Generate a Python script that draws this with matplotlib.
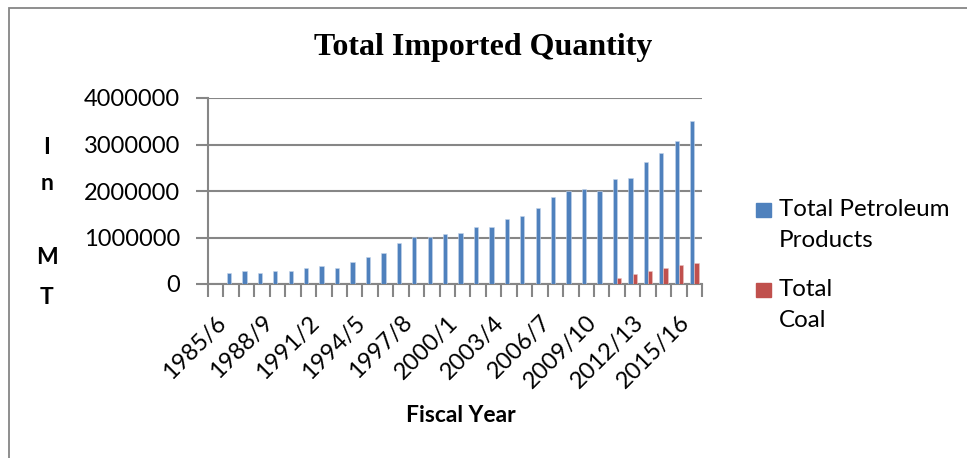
import matplotlib
matplotlib.use("Agg")
import matplotlib.pyplot as plt
from matplotlib.patches import Rectangle
import numpy as np

years = ["1985/6", "1986/7", "1987/8", "1988/9", "1989/90", "1990/1", "1991/2", "1992/3",
         "1993/4", "1994/5", "1995/6", "1996/7", "1997/8", "1998/9", "1999/00", "2000/1",
         "2001/2", "2002/3", "2003/4", "2004/5", "2005/6", "2006/7", "2007/8", "2008/9",
         "2009/10", "2010/11", "2011/12", "2012/13", "2013/14", "2014/15", "2015/16", "2016/17"]
petroleum = [0, 236000, 271000, 243000, 271000, 271000, 350000, 386000,
             350000, 471000, 586000, 664000, 879000, 1007000, 1007000, 1079000,
             1107000, 1221000, 1236000, 1393000, 1464000, 1629000, 1879000, 2000000,
             2036000, 2000000, 2250000, 2279000, 2621000, 2814000, 3071000, 3500000]
coal = [0, 0, 0, 0, 0, 0, 0, 0,
        0, 0, 0, 0, 0, 0, 0, 0,
        0, 0, 0, 0, 0, 0, 0, 0,
        0, 0, 121000, 207000, 271000, 343000, 414000, 443000]
yticks = [0, 1000000, 2000000, 3000000, 4000000]
label_every = 3

W, H = 967, 458
fig = plt.figure(figsize=(W / 100, H / 100), dpi=100)
fig.patch.set_facecolor("white")

gray = "#868686"
blue = "#4F81BD"
red = "#C0504D"

# outer chart border
fig.patches.append(Rectangle((9 / W, -0.05), 1.1, (H - 8) / H + 0.05, transform=fig.transFigure,
                             fill=False, edgecolor=gray, linewidth=1.3))

ax = fig.add_axes([208 / W, 1 - 284 / H, (702 - 208) / W, (284 - 98) / H])
x = np.arange(len(years))
w = 0.28
ax.bar(x - w / 2, petroleum, width=w, color=blue, edgecolor="#C6D5EA", linewidth=0.4, zorder=3)
ax.bar(x + w / 2, coal, width=w, color=red, edgecolor="#E8C2C1", linewidth=0.4, zorder=3)

ax.set_xlim(-0.5, len(years) - 0.5)
ax.set_ylim(0, 4000000)
ax.set_yticks(yticks)
ax.set_yticklabels([str(v) for v in yticks])
ax.yaxis.grid(True, color=gray, linewidth=1.5, zorder=0)
for s in ["top", "right"]:
    ax.spines[s].set_visible(False)
for s in ["left", "bottom"]:
    ax.spines[s].set_color(gray)
    ax.spines[s].set_linewidth(1.5)

ax.set_xticks(np.arange(len(years) + 1) - 0.5)
ax.set_xticklabels([])
ax.set_xticks(x[::label_every], minor=True)
ax.set_xticklabels(years[::label_every], minor=True, rotation=45, ha="right",
                   rotation_mode="anchor", fontsize=17, family="Lato")
ax.tick_params(axis="x", which="major", length=9, width=1.5, color=gray)
ax.tick_params(axis="x", which="minor", length=0, pad=20)
ax.tick_params(axis="y", length=9, width=1.5, color=gray, pad=11, labelsize=17)
for lbl in ax.get_yticklabels():
    lbl.set_family("Lato")

fig.text(483 / W, 1 - 48 / H, "Total Imported Quantity", ha="center", va="center",
         fontsize=23, fontweight="bold", family="Liberation Serif")
fig.text(461 / W, 1 - 415 / H, "Fiscal Year", ha="center", va="center",
         fontsize=16.5, fontweight="bold", family="Lato")

for letter, yy in [("I", 147), ("n", 184), ("M", 258), ("T", 298)]:
    fig.text(47 / W, 1 - yy / H, letter, ha="center", va="center", fontsize=16.5,
             fontweight="bold", family="Lato")

# legend
for col, ytop, txt in [(blue, 203, "Total Petroleum\nProducts"), (red, 283, "Total\nCoal")]:
    fig.patches.append(Rectangle((756 / W, 1 - (ytop + 14) / H), 15 / W, 14 / H,
                                 transform=fig.transFigure, color=col))
    fig.text(779 / W, 1 - (ytop - 4) / H, txt, ha="left", va="top", fontsize=17.4,
             family="Lato", linespacing=1.6)

fig.savefig("out.png", dpi=100)
